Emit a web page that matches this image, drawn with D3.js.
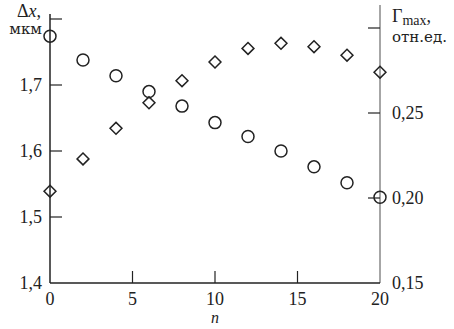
<!DOCTYPE html>
<html>
<head>
<meta charset="utf-8">
<script src="https://cdn.jsdelivr.net/npm/d3@7"></script>
<style>
  body { margin: 0; background: #fff; }
  text { font-family: "Liberation Serif", "DejaVu Serif", serif; fill: #222; }
  .cyr { font-family: "DejaVu Serif", serif; }
</style>
</head>
<body>
<svg id="chart" width="454" height="329"></svg>
<script>
// Data
const nValues = [0, 2, 4, 6, 8, 10, 12, 14, 16, 18, 20];
const dxValues = [1.774, 1.738, 1.714, 1.690, 1.668, 1.643, 1.622, 1.600, 1.576, 1.552, 1.530];
const gammaValues = [0.204, 0.223, 0.241, 0.256, 0.269, 0.280, 0.288, 0.291, 0.289, 0.284, 0.274];
const xTicks = [0, 5, 10, 15, 20];
const leftTicks = [1.4, 1.5, 1.6, 1.7, 1.8];
const rightTicks = [0.15, 0.20, 0.25, 0.30];

const svg = d3.select('#chart');
const left = 50, right = 380, bottom = 283;

// Scales
const x = d3.scaleLinear().domain([0, 20]).range([left, right]);
const yL = d3.scaleLinear().domain([1.4, 1.8]).range([bottom, 19]);
const yR = d3.scaleLinear().domain([0.15, 0.30]).range([bottom, 28]);

const comma = (v, digits) => v.toFixed(digits).replace('.', ',');

// Axis lines
svg.append('line').attr('x1', left).attr('x2', left).attr('y1', 14).attr('y2', bottom)
  .attr('stroke', '#222').attr('stroke-width', 1.5);
svg.append('line').attr('x1', right).attr('x2', right).attr('y1', 5).attr('y2', bottom)
  .attr('stroke', '#888').attr('stroke-width', 1.5);
svg.append('line').attr('x1', left).attr('x2', right).attr('y1', bottom).attr('y2', bottom)
  .attr('stroke', '#222').attr('stroke-width', 1.5);

// Left ticks
leftTicks.forEach((t) => {
  if (t > 1.4) {
    svg.append('line').attr('x1', left).attr('x2', left + 12)
      .attr('y1', yL(t)).attr('y2', yL(t)).attr('stroke', '#222').attr('stroke-width', 1.2);
  }
  if (t < 1.8) {
    svg.append('text').attr('x', left - 8).attr('y', yL(t) + 6)
      .attr('text-anchor', 'end').attr('font-size', 18).text(comma(t, 1));
  }
});

// Right ticks
rightTicks.forEach((t) => {
  if (t > 0.15) {
    svg.append('line').attr('x1', right - 12).attr('x2', right)
      .attr('y1', yR(t)).attr('y2', yR(t)).attr('stroke', '#222').attr('stroke-width', 1.2);
  }
  if (t < 0.30) {
    svg.append('text').attr('x', right + 12).attr('y', yR(t) + 6)
      .attr('font-size', 18).text(comma(t, 2));
  }
});

// Bottom ticks
xTicks.forEach((t) => {
  if (t > 0 && t < 20) {
    svg.append('line').attr('x1', x(t)).attr('x2', x(t))
      .attr('y1', bottom).attr('y2', bottom - 12).attr('stroke', '#222').attr('stroke-width', 1.2);
  }
  svg.append('text').attr('x', x(t)).attr('y', bottom + 22)
    .attr('text-anchor', 'middle').attr('font-size', 18).text(t);
});

// Axis titles
svg.append('text').attr('x', 215).attr('y', 323).attr('text-anchor', 'middle')
  .attr('font-size', 16).attr('font-style', 'italic').text('n');

const dxLabel = svg.append('text').attr('x', 41).attr('y', 17).attr('text-anchor', 'end').attr('font-size', 18);
dxLabel.append('tspan').text('Δ');
dxLabel.append('tspan').attr('font-style', 'italic').text('x');
dxLabel.append('tspan').text(',');
svg.append('text').attr('class', 'cyr').attr('x', 42).attr('y', 34).attr('text-anchor', 'end')
  .attr('font-size', 15).text('мкм');

const gLabel = svg.append('text').attr('x', 392).attr('y', 22).attr('font-size', 18);
gLabel.append('tspan').text('Γ');
gLabel.append('tspan').attr('font-size', 14).attr('dy', 3).text('max');
gLabel.append('tspan').attr('dy', -3).text(',');
svg.append('text').attr('class', 'cyr').attr('x', 392).attr('y', 42)
  .attr('font-size', 15).text('отн.ед.');

// Circles: Δx on left axis
svg.selectAll('circle.dx')
  .data(nValues)
  .join('circle')
  .attr('class', 'dx')
  .attr('cx', (d) => x(d))
  .attr('cy', (d, i) => yL(dxValues[i]))
  .attr('r', 6)
  .attr('fill', 'none')
  .attr('stroke', '#222')
  .attr('stroke-width', 1.5);

// Diamonds: Γmax on right axis
const diamond = d3.symbol().type(d3.symbolDiamond2).size(90);
svg.selectAll('path.gamma')
  .data(nValues)
  .join('path')
  .attr('class', 'gamma')
  .attr('transform', (d, i) => `translate(${x(d)},${yR(gammaValues[i])})`)
  .attr('d', diamond)
  .attr('fill', 'none')
  .attr('stroke', '#222')
  .attr('stroke-width', 1.5);
</script>
</body>
</html>
